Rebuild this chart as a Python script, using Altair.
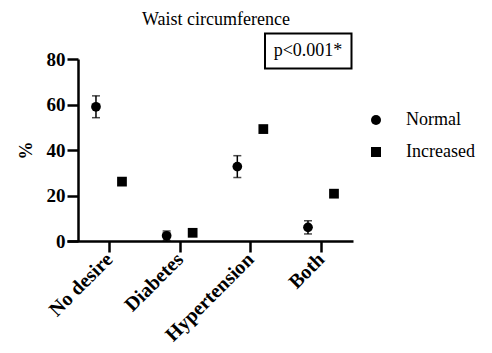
import json
import altair as alt
import pandas as pd

categories = ["No desire", "Diabetes", "Hypertension", "Both"]
groups = ["Normal", "Increased"]
normal_pct = [59.0, 2.3, 32.7, 6.0]
normal_err = [4.8, 2.1, 4.8, 2.9]
increased_pct = [26.1, 3.6, 49.2, 20.8]
increased_err = [1.2, 0.8, 1.5, 1.0]
y_ticks = [0, 20, 40, 60, 80]

DODGE = 0.184  # horizontal shift of each group from the category centre
SERIF = "Liberation Serif"

rows = []
for i, cat in enumerate(categories):
    for grp, vals, errs, side in (
        ("Normal", normal_pct, normal_err, -1),
        ("Increased", increased_pct, increased_err, 1),
    ):
        rows.append(
            {
                "category": cat,
                "group": grp,
                "pos": i + side * DODGE,
                "pct": vals[i],
                "lo": vals[i] - errs[i],
                "hi": vals[i] + errs[i],
            }
        )
df = pd.DataFrame(rows)

label_expr = json.dumps(categories) + "[datum.value]"

x_enc = alt.X(
    "pos:Q",
    scale=alt.Scale(domain=[-0.594, 3.453], nice=False, zero=False),
    axis=alt.Axis(
        values=list(range(len(categories))),
        labelExpr=label_expr,
        labelAngle=-45,
        labelAlign="right",
        labelBaseline="middle",
        labelPadding=4,
        labelFontSize=20,
        labelOverlap=False,
        labelBound=False,
        title=None,
    ),
)
y_enc = alt.Y(
    "pct:Q",
    scale=alt.Scale(domain=[0, 80], nice=False),
    axis=alt.Axis(values=y_ticks, title="%", offset=-11, titlePadding=11, labelFontSize=19),
)

base = alt.Chart(df)

bars = base.mark_rule(color="black", strokeWidth=1.5).encode(
    x="pos:Q", y="lo:Q", y2="hi:Q"
)
caps_hi = base.mark_tick(color="black", orient="horizontal", size=8, thickness=1.5).encode(
    x="pos:Q", y="hi:Q"
)
caps_lo = base.mark_tick(color="black", orient="horizontal", size=8, thickness=1.5).encode(
    x="pos:Q", y="lo:Q"
)
points = base.mark_point(filled=True, opacity=1, color="black", size=95).encode(
    x=x_enc,
    y=y_enc,
    shape=alt.Shape(
        "group:N",
        scale=alt.Scale(domain=groups, range=["circle", "square"]),
        legend=alt.Legend(
            title=None,
            orient="none",
            legendX=300,
            legendY=52,
            labelFont=SERIF,
            labelFontSize=18,
            labelOffset=21,
            rowPadding=14,
            symbolSize=100,
            symbolFillColor="black",
            symbolStrokeWidth=0,
            padding=0,
        ),
    ),
)

# Heading and significance box, positioned in pixels relative to the plot area
notes = alt.Chart(pd.DataFrame({"title": ["Waist circumference"], "p": ["p<0.001*"]}))
heading = notes.mark_text(font=SERIF, fontSize=18, color="black", align="center", baseline="alphabetic").encode(
    x=alt.value(149), y=alt.value(-34), text="title:N"
)
box = notes.mark_rect(fill="white", stroke="black", strokeWidth=2).encode(
    x=alt.value(198), x2=alt.value(284.5), y=alt.value(-25.5), y2=alt.value(9.5)
)
ptext = notes.mark_text(font=SERIF, fontSize=18, color="black", align="center", baseline="middle").encode(
    x=alt.value(241), y=alt.value(-8), text="p:N"
)

chart = (
    alt.layer(bars, caps_hi, caps_lo, points, box, ptext, heading)
    .properties(
        width=286,
        height=182,
        padding={"left": 67, "top": 59, "right": 139, "bottom": 112},
        autosize=alt.AutoSizeParams(type="none"),
    )
    .configure_view(stroke=None)
    .configure_axis(
        grid=False,
        domainColor="black",
        domainWidth=2.5,
        tickColor="black",
        tickWidth=2.5,
        tickSize=11,
        labelFont=SERIF,
        labelFontWeight="bold",
        labelFontSize=18,
        labelColor="black",
        titleFont=SERIF,
        titleFontWeight="bold",
        titleFontSize=18,
        titleColor="black",
    )
)

chart.save("out.html", embed_options={"renderer": "svg", "actions": False})
